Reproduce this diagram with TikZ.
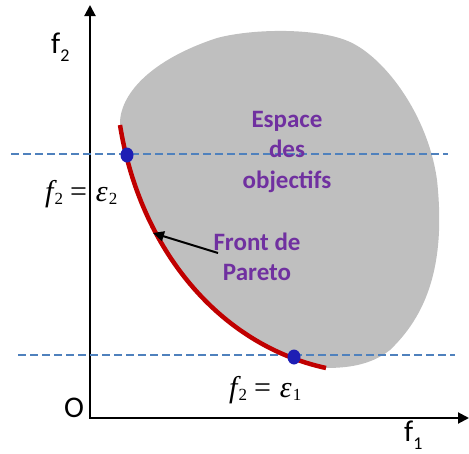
\documentclass[tikz,border=0pt]{standalone}
\usepackage{fontspec}
\setmainfont{Carlito}
\newfontfamily\tmsfont{Liberation Serif}
\usetikzlibrary{arrows.meta,shapes.geometric}
\definecolor{blobgray}{RGB}{191,191,191}
\definecolor{frontred}{RGB}{192,0,0}
\definecolor{dotblue}{RGB}{30,30,180}
\definecolor{dashblue}{RGB}{79,129,189}
\definecolor{txtpurple}{RGB}{112,48,160}
\newcommand\epslbl[1]{{\tmsfont\fontsize{30}{30}\selectfont\itshape f\hspace{1pt}\raisebox{-3pt}{\upshape\fontsize{17}{17}\selectfont 2}\hspace{7pt}\upshape=\hspace{9pt}\itshape ε\hspace{1pt}\raisebox{-3pt}{\upshape\fontsize{17}{17}\selectfont #1}}}
\begin{document}
\begin{tikzpicture}[x=1pt,y=-1pt,
  axis/.style={line width=2pt,-{Triangle[length=11pt,width=11pt]}},
  epsline/.style={dashblue,line width=2.5pt,dash pattern=on 8pt off 4pt},
  front/.style={frontred,line width=4.5pt},
  ptdot/.style={ellipse,fill=dotblue,minimum width=13pt,minimum height=15pt,inner sep=0pt},
  purpletext/.style={txtpurple,align=center,font=\fontsize{25}{30.5}\selectfont\bfseries},
  axlabel/.style={anchor=base west,inner sep=0pt,font=\fontsize{30}{30}\selectfont},
  mathlabel/.style={anchor=base west,inner sep=0pt}]
\useasboundingbox (0,0) rectangle (469,453);
% objective space
\fill[blobgray] (120,125) .. controls (119,95) and (150,60) .. (217,38)
  .. controls (255,28) and (320,28) .. (350,42)
  .. controls (385,58) and (428,115) .. (437,180)
  .. controls (445,255) and (432,310) .. (390,350)
  .. controls (370,366) and (345,368) .. (325,368)
  .. controls (220,345) and (140,250) .. (120,125) -- cycle;
% axes
\coordinate (O) at (90,418);
\coordinate (ytip) at (90,5);
\coordinate (xtip) at (469,418);
\draw[axis] (O) -- (ytip);
\draw[axis] ([xshift=-1pt]O) -- (xtip);
% dashed epsilon lines
\coordinate (e2a) at (11,154);
\coordinate (e2b) at (448,154);
\coordinate (e1a) at (18,355);
\coordinate (e1b) at (455,355);
\draw[epsline] (e2a) -- (e2b);
\draw[epsline] (e1a) -- (e1b);
% Pareto front
\coordinate (fs) at (120,125);
\coordinate (fe) at (326,368);
\draw[front] (fs) .. controls (140,250) and (220,345) .. (fe);
\node[ptdot] (p2) at (127,155) {};
\node[ptdot] (p1) at (294,357) {};
% labels
\node[purpletext] (esp) at (287,152) {Espace\\des\\objectifs};
\node[purpletext] (pf) at (257,257) {Front de\\Pareto};
\coordinate (arrtail) at (218,253);
\coordinate (arrtip) at (153,233);
\draw[line width=2pt,-{Triangle[length=11pt,width=10pt]}] (arrtail) -- (arrtip);
\node[axlabel] (lf2) at (51,53) {f\raisebox{-8pt}{\fontsize{18}{18}\selectfont 2}};
\node[axlabel] (lf1) at (404,441) {f\raisebox{-8pt}{\fontsize{18}{18}\selectfont 1}};
\node[axlabel] (lO) at (64,417) {O};
\node[mathlabel] (m2) at (45,201) {\epslbl{2}};
\node[mathlabel] (m1) at (229,397) {\epslbl{1}};
\end{tikzpicture}
\end{document}
